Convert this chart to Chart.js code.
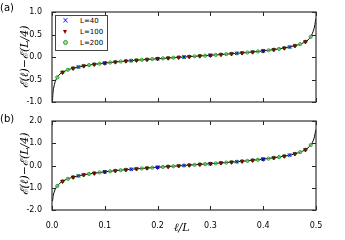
<!DOCTYPE html>
<html>
<head>
<meta charset="utf-8">
<script src="https://cdn.jsdelivr.net/npm/chart.js@4"></script>
<style>
  body { margin: 0; background: #fff; }
  #wrap { position: relative; width: 345px; height: 240px; font-family: "DejaVu Sans", sans-serif; }
  canvas { position: absolute; left: 0; }
  .lbl { position: absolute; font-size: 10px; color: #000; white-space: nowrap; }
  .ytitle { position: absolute; font-family: "DejaVu Serif", serif; font-style: italic; font-size: 11px;
            line-height: 12px; white-space: nowrap; transform: translate(-50%, -50%) rotate(-90deg); }
  .legend { position: absolute; left: 55px; top: 15px; width: 51px; height: 34px; border: 1px solid #444;
            background: #fff; font-size: 7px; }
  .legend div { position: absolute; left: 24px; line-height: 8px; }
  .mk { position: absolute; }
</style>
</head>
<body>
<div id="wrap">
  <canvas id="chartA" width="345" height="112" style="top:0"></canvas>
  <canvas id="chartB" width="345" height="130" style="top:110px"></canvas>
  <div class="lbl" style="left:0;top:2px">(a)</div>
  <div class="lbl" style="left:0;top:113px">(b)</div>
  <div class="ytitle" style="left:25px;top:57px">ℰ(ℓ)−ℰ(L/4)</div>
  <div class="ytitle" style="left:25px;top:164px">ℰ(ℓ)−ℰ(L/4)</div>
  <div class="lbl" style="left:174px;top:221px;font-family:'DejaVu Serif',serif;font-style:italic;font-size:11px">ℓ/L</div>
  <div class="legend">
    <span class="mk" style="left:6px;top:0px;color:#00f;font-size:8px">×</span>
    <div style="top:1px">L=40</div>
    <span class="mk" style="left:7px;top:14px;width:0;height:0;border-left:2px solid transparent;border-right:2px solid transparent;border-top:4px solid #8b0000"></span>
    <div style="top:12px">L=100</div>
    <span class="mk" style="left:7px;top:24px;width:3px;height:3px;border:1px solid #2ca02c;border-radius:50%;background:#a8dca8"></span>
    <div style="top:23px">L=200</div>
  </div>
</div>
<script>
// x positions of the markers (l/L)
const xL200 = [0.01,0.02,0.03,0.04,0.05,0.06,0.07,0.08,0.09,0.10,0.11,0.12,0.13,0.14,0.15,0.16,0.17,0.18,0.19,0.20,0.21,0.22,0.23,0.24,0.25,
               0.26,0.27,0.28,0.29,0.30,0.31,0.32,0.33,0.34,0.35,0.36,0.37,0.38,0.39,0.40,0.41,0.42,0.43,0.44,0.45,0.46,0.47,0.48,0.49];
const xL100 = [0.02,0.04,0.06,0.08,0.10,0.12,0.14,0.16,0.18,0.20,0.22,0.24,0.26,0.28,0.30,0.32,0.34,0.36,0.38,0.40,0.42,0.44,0.46,0.48];
const xL40 = [0.05,0.10,0.15,0.20,0.25,0.30,0.35,0.40,0.45];
// x positions of the solid curve
const xCurve = [0.001,0.002,0.004,0.007,0.01,0.015,0.02,0.03,0.04,0.05,0.07,0.10,0.13,0.16,0.20,0.25,
                0.30,0.34,0.37,0.40,0.43,0.45,0.46,0.47,0.48,0.485,0.49,0.493,0.496,0.498,0.4995];

// panel (a)
const aL200 = [-0.45,-0.34,-0.285,-0.25,-0.222,-0.199,-0.18,-0.163,-0.148,-0.135,-0.123,-0.111,-0.10,-0.09,-0.081,-0.072,-0.063,-0.055,-0.046,-0.038,-0.03,-0.023,-0.015,-0.008,0,
               0.008,0.015,0.023,0.03,0.038,0.046,0.055,0.063,0.072,0.081,0.09,0.10,0.111,0.123,0.135,0.148,0.163,0.18,0.199,0.222,0.25,0.285,0.34,0.45];
const aL100 = [-0.34,-0.25,-0.199,-0.163,-0.135,-0.111,-0.09,-0.072,-0.055,-0.038,-0.023,-0.008,
               0.008,0.023,0.038,0.055,0.072,0.09,0.111,0.135,0.163,0.199,0.25,0.34];
const aL40 = [-0.222,-0.135,-0.081,-0.038,0,0.038,0.081,0.135,0.222];
const aCurve = [-0.95,-0.78,-0.64,-0.52,-0.45,-0.38,-0.34,-0.285,-0.25,-0.222,-0.18,-0.135,-0.10,-0.072,-0.038,0,
                0.038,0.072,0.10,0.135,0.18,0.222,0.25,0.285,0.34,0.38,0.45,0.52,0.62,0.72,0.85];

// panel (b)
const bL200 = [-0.92,-0.71,-0.60,-0.525,-0.465,-0.42,-0.38,-0.345,-0.31,-0.285,-0.26,-0.235,-0.21,-0.19,-0.17,-0.15,-0.132,-0.115,-0.097,-0.08,-0.064,-0.048,-0.032,-0.016,0,
               0.016,0.032,0.048,0.064,0.08,0.097,0.115,0.132,0.15,0.17,0.19,0.21,0.235,0.26,0.285,0.31,0.345,0.38,0.42,0.465,0.525,0.60,0.71,0.92];
const bL100 = [-0.71,-0.525,-0.42,-0.345,-0.285,-0.235,-0.19,-0.15,-0.115,-0.08,-0.048,-0.016,
               0.016,0.048,0.08,0.115,0.15,0.19,0.235,0.285,0.345,0.42,0.525,0.71];
const bL40 = [-0.465,-0.285,-0.17,-0.08,0,0.08,0.17,0.285,0.465];
const bCurve = [-1.6,-1.4,-1.2,-1.03,-0.92,-0.80,-0.71,-0.60,-0.525,-0.465,-0.38,-0.285,-0.21,-0.15,-0.08,0,
                0.08,0.15,0.21,0.285,0.38,0.465,0.525,0.60,0.71,0.80,0.92,1.03,1.2,1.4,1.6];

const xTicks = [0.0,0.1,0.2,0.3,0.4,0.5];
const yTicksA = [-1.0,-0.5,0.0,0.5,1.0];
const yTicksB = [-2.0,-1.0,0.0,1.0,2.0];

const pts = (xs, ys) => xs.map((x, i) => ({ x: x, y: ys[i] }));

// inward ticks on all four sides plus the box frame
const frame = {
  id: 'frame',
  afterDraw(chart) {
    const { ctx, chartArea: { left, right, top, bottom }, scales: { x, y } } = chart;
    ctx.save();
    ctx.strokeStyle = '#222';
    ctx.lineWidth = 1;
    ctx.beginPath();
    x.ticks.forEach(t => {
      const px = Math.round(x.getPixelForValue(t.value)) + 0.5;
      ctx.moveTo(px, bottom); ctx.lineTo(px, bottom - 4);
      ctx.moveTo(px, top); ctx.lineTo(px, top + 4);
    });
    y.ticks.forEach(t => {
      const py = Math.round(y.getPixelForValue(t.value)) + 0.5;
      ctx.moveTo(left, py); ctx.lineTo(left + 4, py);
      ctx.moveTo(right, py); ctx.lineTo(right - 4, py);
    });
    ctx.stroke();
    ctx.strokeStyle = '#333';
    ctx.lineWidth = 1.2;
    ctx.strokeRect(left, top, right - left, bottom - top);
    ctx.restore();
  }
};

function makeChart(id, l200, l100, l40, curve, yTicks, showX, padTop, xHeight) {
  const ctx = document.getElementById(id).getContext('2d');
  const ymax = yTicks[yTicks.length - 1];
  return new Chart(ctx, {
    type: 'scatter',
    data: {
      datasets: [
        { label: 'L=40', data: pts(xL40, l40), pointStyle: 'crossRot', pointRadius: 2.3,
          borderColor: '#0000ff', backgroundColor: '#0000ff', borderWidth: 1, order: 1 },
        { label: 'L=100', data: pts(xL100, l100), pointStyle: 'triangle', rotation: 180, pointRadius: 2.2,
          borderColor: '#3a0000', backgroundColor: '#a00000', borderWidth: 0.6, order: 2 },
        { label: 'L=200', data: pts(xL200, l200), pointStyle: 'circle', pointRadius: 1.6,
          borderColor: '#2ca02c', backgroundColor: 'rgba(150,215,150,0.5)', borderWidth: 1, order: 3 },
        { label: 'curve', data: pts(xCurve, curve), showLine: true, pointRadius: 0,
          borderColor: '#000', borderWidth: 1, cubicInterpolationMode: 'monotone', order: 4 }
      ]
    },
    options: {
      responsive: false,
      animation: false,
      events: [],
      layout: { padding: { top: padTop, right: 29, left: 0, bottom: 0 } },
      plugins: { legend: { display: false }, tooltip: { enabled: false } },
      scales: {
        x: {
          type: 'linear', min: 0, max: 0.5,
          afterBuildTicks: s => { s.ticks = xTicks.map(v => ({ value: v })); },
          afterFit: s => { s.height = xHeight; },
          grid: { display: false },
          border: { display: false },
          ticks: { display: showX, padding: 3, color: '#000',
                   font: { family: 'DejaVu Sans', size: 8 },
                   callback: v => v.toFixed(1) }
        },
        y: {
          type: 'linear', min: -ymax, max: ymax,
          afterBuildTicks: s => { s.ticks = yTicks.map(v => ({ value: v })); },
          afterFit: s => { s.width = 52; },
          grid: { display: false },
          border: { display: false },
          ticks: { padding: 2, color: '#000',
                   font: { family: 'DejaVu Sans', size: 8 },
                   callback: v => v.toFixed(1) }
        }
      }
    },
    plugins: [frame]
  });
}

makeChart('chartA', aL200, aL100, aL40, aCurve, yTicksA, false, 12, 10);
makeChart('chartB', bL200, bL100, bL40, bCurve, yTicksB, true, 11, 30);
</script>
</body>
</html>
